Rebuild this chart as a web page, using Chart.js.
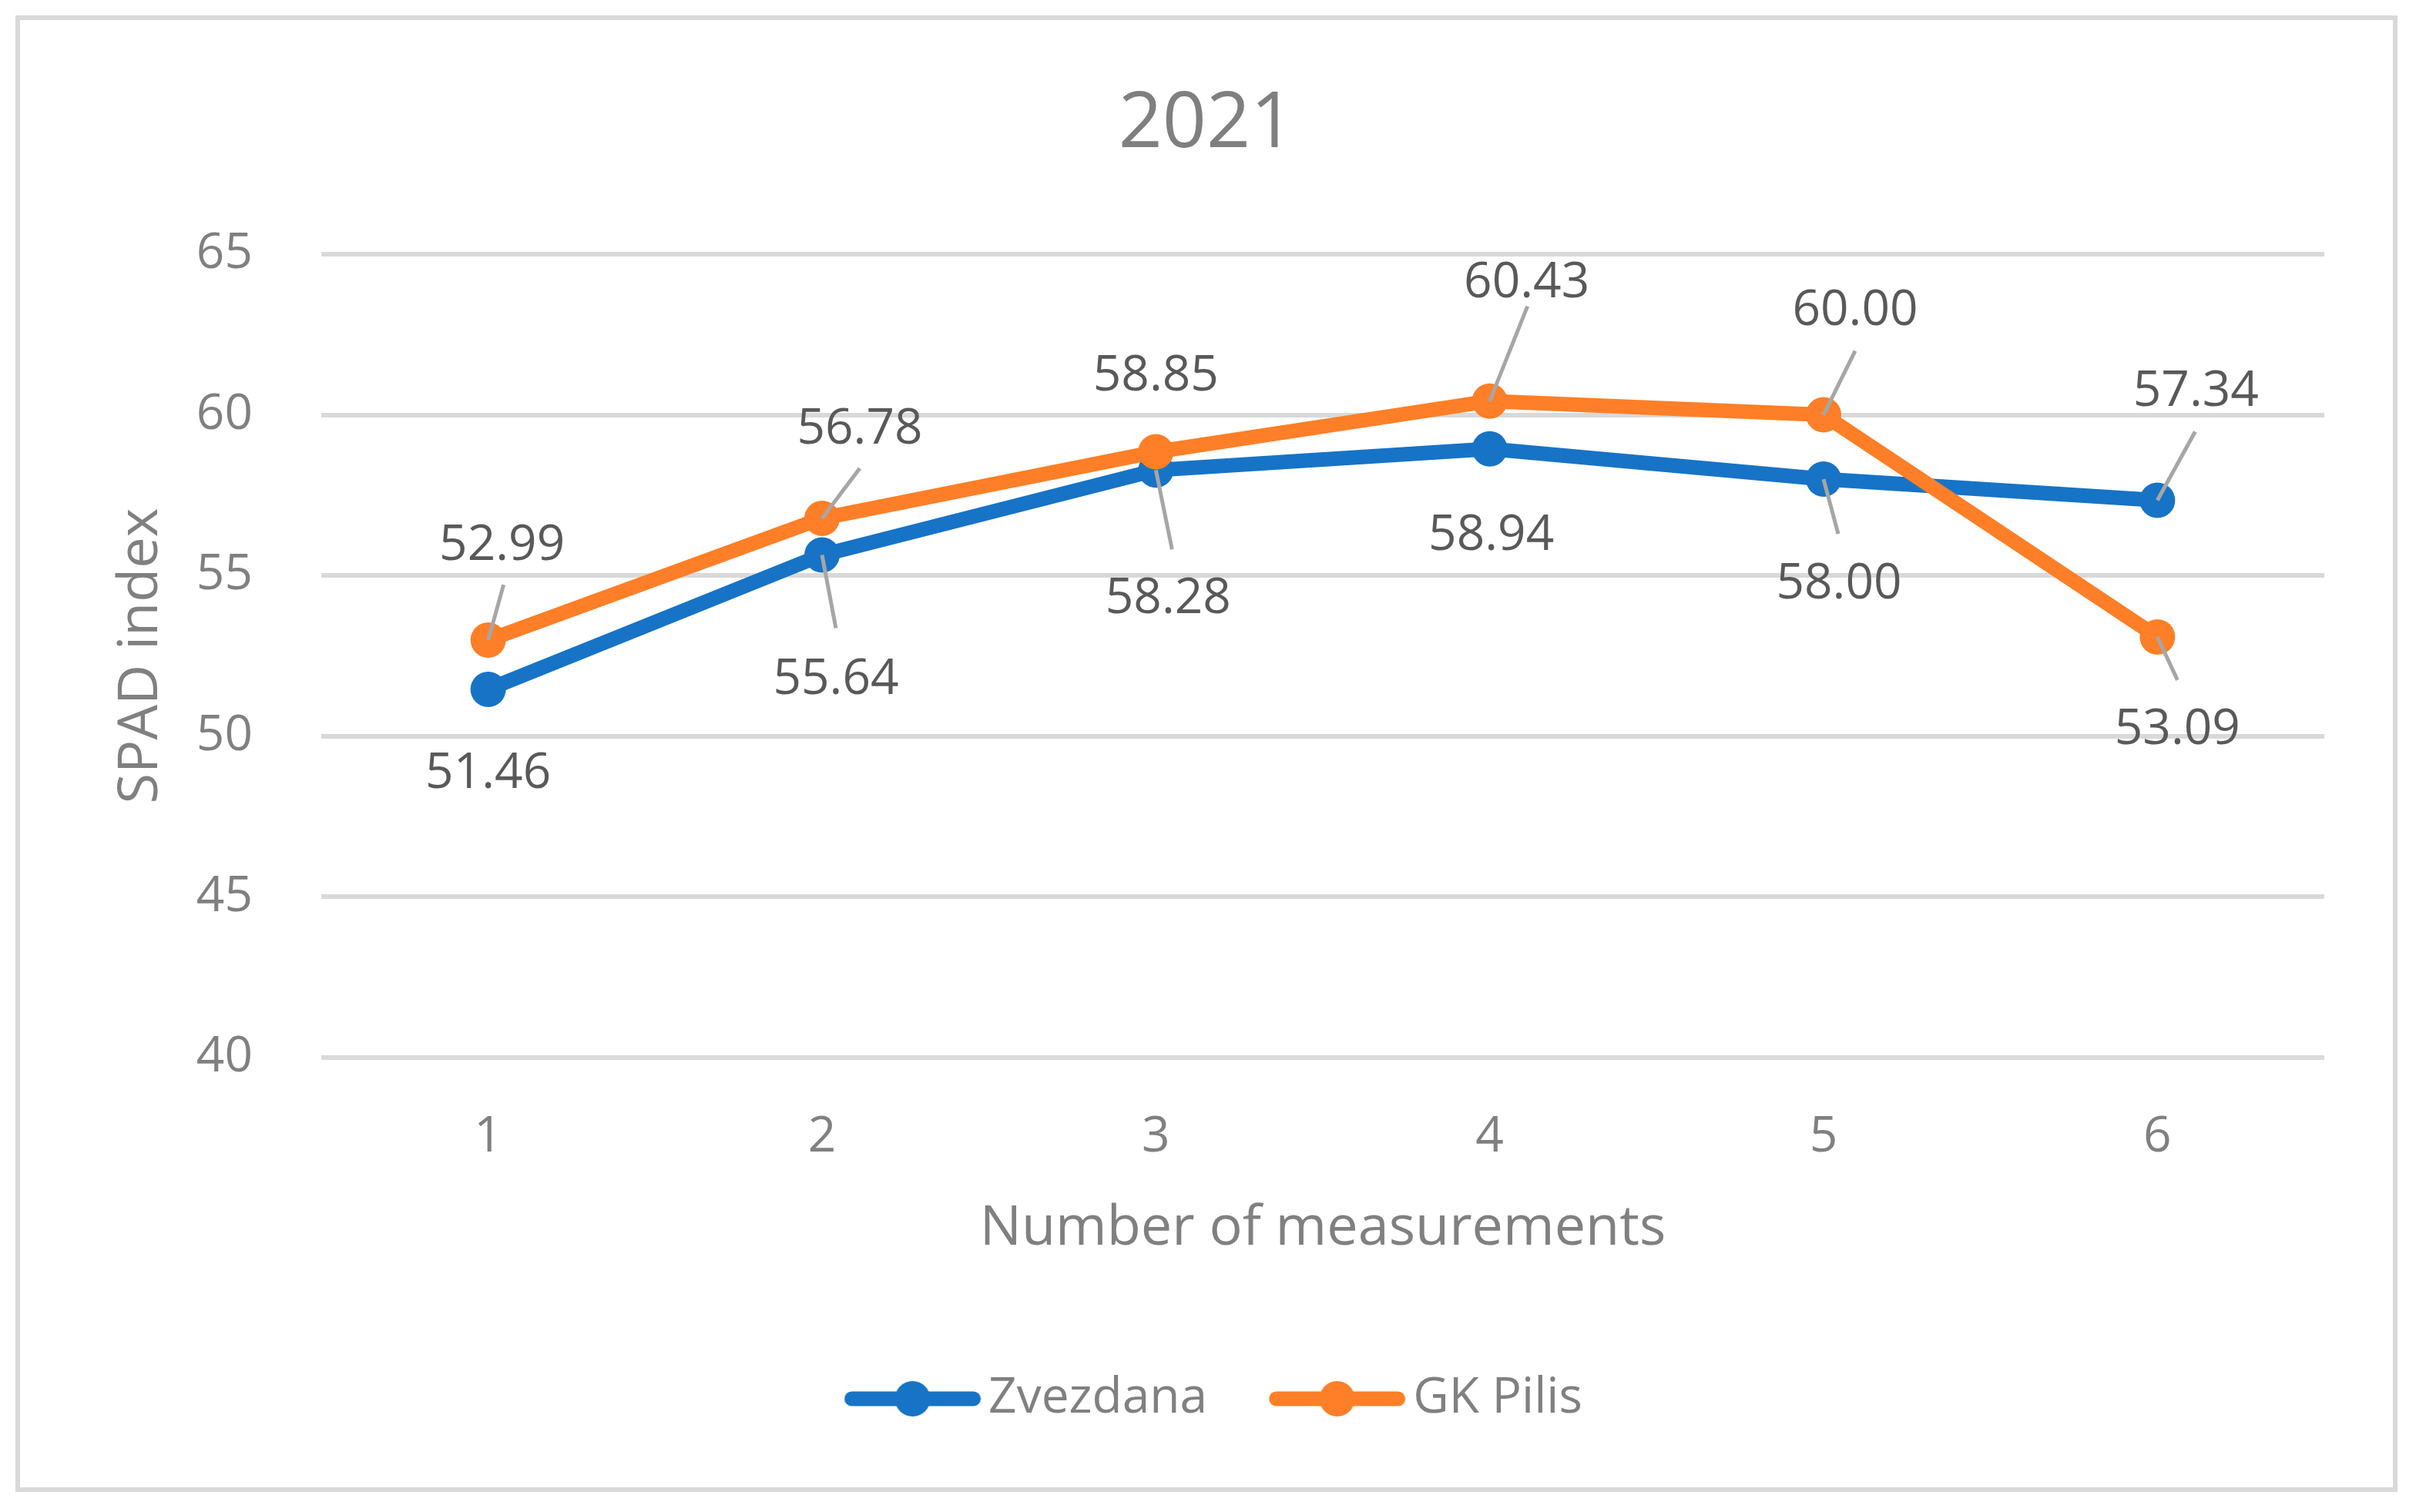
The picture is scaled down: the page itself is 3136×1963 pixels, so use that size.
<!DOCTYPE html>
<html>
<head>
<meta charset="utf-8">
<title>SPAD index 2021</title>
<script src="https://cdn.jsdelivr.net/npm/chart.js@4.4.1/dist/chart.umd.min.js"></script>
<style>
  html, body { margin: 0; padding: 0; background: #fff; }
  #frame { position: absolute; left: 20px; top: 20px; width: 3080px; height: 1905px; border: 6px solid #d9d9d9; }
  #wrap { position: absolute; left: 0; top: 0; width: 3136px; height: 1963px; }
</style>
</head>
<body>
<div id="frame"></div>
<div id="wrap"><canvas id="spadChart"></canvas></div>
<script>
// Data
const measurements = ["1", "2", "3", "4", "5", "6"];
const zvezdana = [51.46, 55.64, 58.28, 58.94, 58.00, 57.34];
const gkPilis = [52.99, 56.78, 58.85, 60.43, 60.00, 53.09];
const yTicks = [40, 45, 50, 55, 60, 65];

const blue = "#1773c6";
const orange = "#fe7f27";
const font = "'Open Sans', sans-serif";

// label offsets from each point: [dx, dy, leaderX, leaderY] (no leader when only two)
const labelPlacement = [
  [[0, 110], [18, 162, 18, 95], [16, 167, 21, 103], [2, 113], [20, 137, 19, 71], [50, -141, 49, -89]],
  [[18, -122, 20, -72], [49, -115, 49, -65], [0, -98], [48, -153, 49, -123], [41, -135, 41, -83], [26, 121, 26, 56]]
];

// line + dot marker for the legend
function legendIcon(color) {
  const c = document.createElement("canvas");
  c.width = 178;
  c.height = 48;
  const g = c.getContext("2d");
  g.strokeStyle = color;
  g.lineWidth = 19;
  g.lineCap = "round";
  g.beginPath();
  g.moveTo(10, 24);
  g.lineTo(168, 24);
  g.stroke();
  g.fillStyle = color;
  g.beginPath();
  g.arc(89, 24, 23, 0, Math.PI * 2);
  g.fill();
  return c;
}
const legendIcons = [legendIcon(blue), legendIcon(orange)];

// value labels with leader lines
const pointLabels = {
  id: "pointLabels",
  afterLayout(chart) {
    // nudge the legend a little to sit where the original one does
    const lg = chart.legend;
    lg.left += 20;
    lg.right += 20;
    lg.top += 4;
    lg.bottom += 4;
  },
  afterDatasetsDraw(chart) {
    const ctx = chart.ctx;
    ctx.save();
    ctx.strokeStyle = "#a6a6a6";
    ctx.lineWidth = 5;
    chart.data.datasets.forEach((ds, di) => {
      chart.getDatasetMeta(di).data.forEach((pt, i) => {
        const p = labelPlacement[di][i];
        if (p.length > 2) {
          ctx.beginPath();
          ctx.moveTo(pt.x + p[2], pt.y + p[3]);
          ctx.lineTo(pt.x, pt.y);
          ctx.stroke();
        }
      });
    });
    ctx.font = "64px " + font;
    ctx.fillStyle = "#595959";
    ctx.textAlign = "center";
    ctx.textBaseline = "middle";
    chart.data.datasets.forEach((ds, di) => {
      chart.getDatasetMeta(di).data.forEach((pt, i) => {
        const p = labelPlacement[di][i];
        ctx.fillText(ds.data[i].toFixed(2), pt.x + p[0], pt.y + p[1]);
      });
    });
    ctx.restore();
  }
};

const ctx = document.getElementById("spadChart").getContext("2d");

new Chart(ctx, {
  type: "line",
  data: {
    labels: measurements,
    datasets: [
      {
        label: "Zvezdana",
        data: zvezdana,
        borderColor: blue,
        backgroundColor: blue,
        pointBackgroundColor: blue,
        borderWidth: 19,
        pointRadius: 23,
        pointBorderWidth: 0,
        order: 1,
      },
      {
        label: "GK Pilis",
        data: gkPilis,
        borderColor: orange,
        backgroundColor: orange,
        pointBackgroundColor: orange,
        borderWidth: 19,
        pointRadius: 23,
        pointBorderWidth: 0,
        order: 0,
      },
    ],
  },
  options: {
    responsive: true,
    maintainAspectRatio: false,
    animation: false,
    events: [],
    layout: { padding: { left: 115, right: 119, top: 0, bottom: 109 } },
    plugins: {
      title: {
        display: true,
        text: "2021",
        color: "#7f7f7f",
        font: { family: font, size: 100, weight: "normal" },
        padding: { top: 103, bottom: 107 },
      },
      legend: {
        position: "bottom",
        labels: {
          usePointStyle: true,
          pointStyleWidth: 133,
          padding: 102,
          color: "#808080",
          font: { family: font, size: 64 },
          sort: (a, b) => a.datasetIndex - b.datasetIndex,
          generateLabels(chart) {
            const items = Chart.defaults.plugins.legend.labels.generateLabels(chart);
            items.forEach((it) => { it.pointStyle = legendIcons[it.datasetIndex]; });
            return items;
          },
        },
      },
      tooltip: { enabled: false },
    },
    scales: {
      x: {
        offset: true,
        grid: { display: false },
        border: { display: false },
        ticks: { color: "#808080", font: { family: font, size: 64 }, padding: 57 },
        title: {
          display: true,
          text: "Number of measurements",
          color: "#808080",
          font: { family: font, size: 72 },
          padding: { top: 46, bottom: 39 },
        },
        afterFit(scale) { scale.height = 305; },
      },
      y: {
        min: 40,
        max: 65,
        grid: { color: "#d9d9d9", lineWidth: 6, drawTicks: false },
        border: { display: false },
        ticks: { color: "#808080", font: { family: font, size: 64 }, padding: 89 },
        afterBuildTicks(scale) { scale.ticks = yTicks.map((v) => ({ value: v })); },
        title: {
          display: true,
          text: "SPAD index",
          color: "#808080",
          font: { family: font, size: 72 },
          padding: { top: 25, bottom: 0 },
        },
        afterFit(scale) { scale.width = 302; },
      },
    },
  },
  plugins: [pointLabels],
});
</script>
</body>
</html>
